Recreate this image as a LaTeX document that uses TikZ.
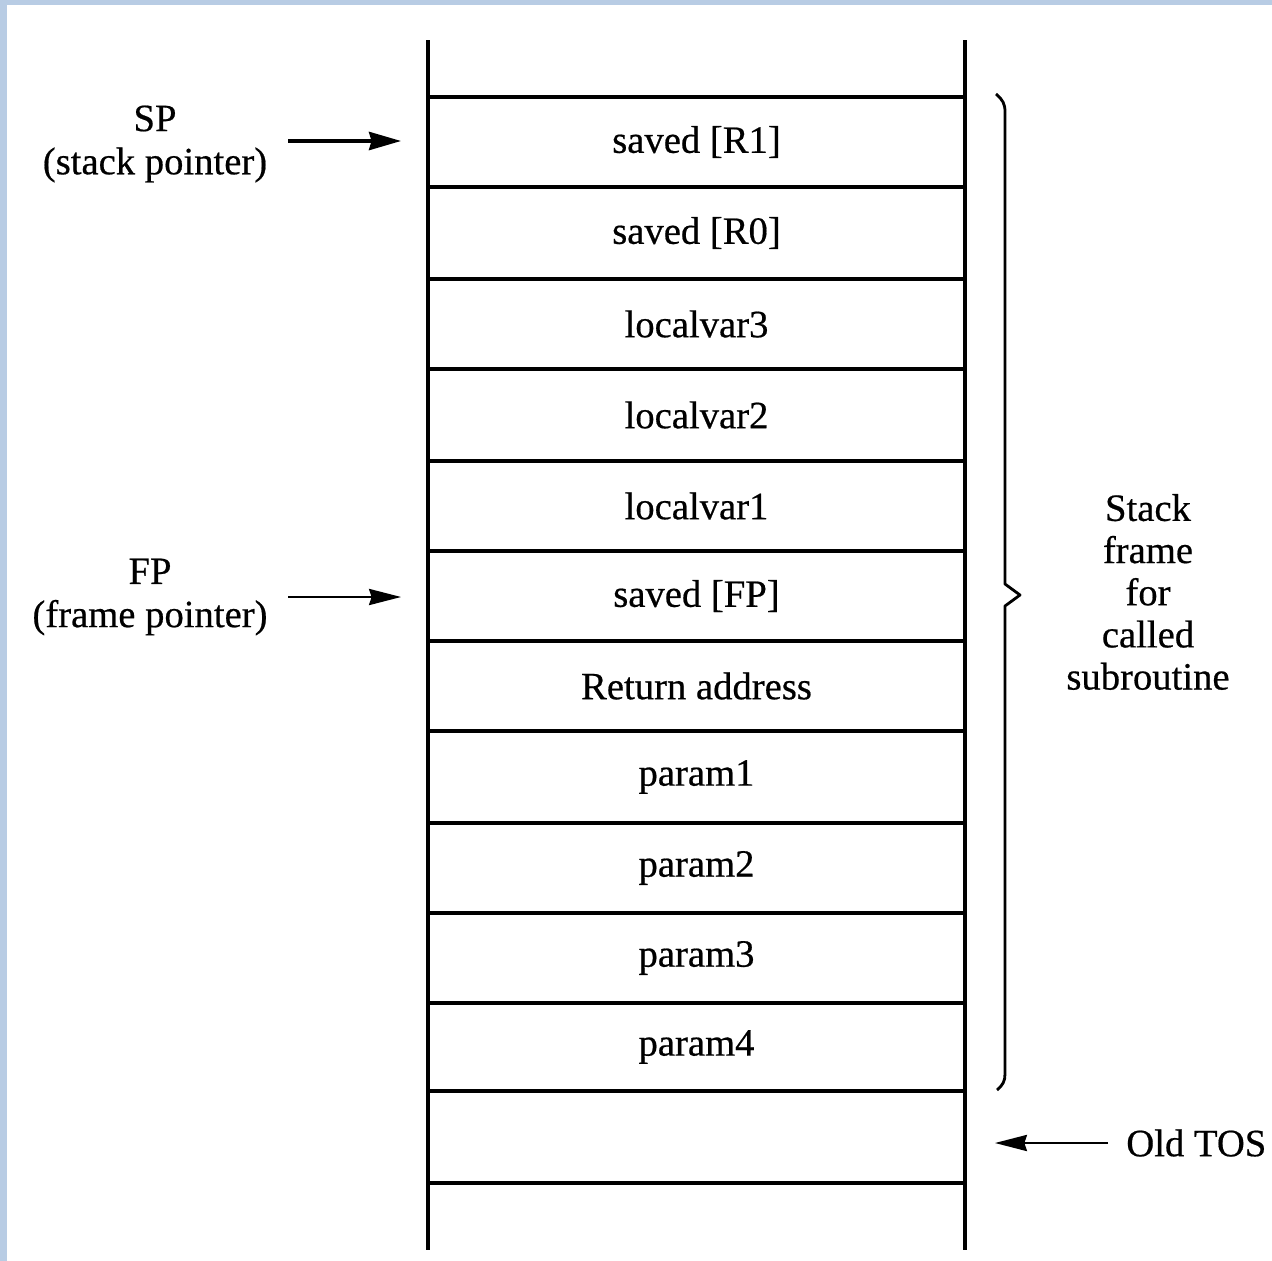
\documentclass[tikz,border=0pt]{standalone}
\usepackage{fontspec}
\setmainfont[FakeBold=0.5]{Liberation Serif}
\usetikzlibrary{arrows.meta}
\definecolor{bandblue}{RGB}{184,204,228}
\begin{document}
\begin{tikzpicture}[x=0.02cm,y=-0.02cm,
  cell/.style={draw,line width=2.2pt,minimum width=10.74cm,inner sep=0pt,
    font=\fontsize{22}{24}\selectfont},
  wall/.style={line width=2.6pt},
  lbl/.style={align=center,font=\fontsize{22}{24}\selectfont,inner sep=0pt},
  ptr/.style={line width=2.4pt,-{Stealth[length=0.64cm,width=0.36cm,inset=0.05cm]}},
  thinptr/.style={line width=1.6pt,-{Stealth[length=0.64cm,width=0.32cm,inset=0.05cm]}}]
\useasboundingbox (0,0) rectangle (1272,1261);
\fill[white] (0,0) rectangle (1272,1261);
\fill[bandblue] (0,0) rectangle (1272,5);
\fill[bandblue] (0,0) rectangle (7,1261);

% stack cells
\node[cell,minimum height=1.80cm] (r1) at (696.5,142) {saved [R1]};
\node[cell,minimum height=1.84cm] (r0) at (696.5,233) {saved [R0]};
\node[cell,minimum height=1.80cm] (l3) at (696.5,324) {localvar3};
\node[cell,minimum height=1.84cm] (l2) at (696.5,415) {localvar2};
\node[cell,minimum height=1.80cm] (l1) at (696.5,506) {localvar1};
\node[cell,minimum height=1.80cm] (fp) at (696.5,596) {saved [FP]};
\node[cell,minimum height=1.80cm] (ra) at (696.5,686) {Return address};
\node[cell,minimum height=1.84cm] (p1) at (696.5,777) {param1};
\node[cell,minimum height=1.80cm] (p2) at (696.5,868) {param2};
\node[cell,minimum height=1.80cm] (p3) at (696.5,958) {param3};
\node[cell,minimum height=1.76cm] (p4) at (696.5,1047) {param4};
\node[cell,minimum height=1.84cm] (e) at (696.5,1137) {};

% stack walls
\draw[wall] (428,40) -- (428,1250);
\draw[wall] (965,40) -- (965,1250);

% pointers
\node[lbl] (sp) at (155,144) {SP\\[0.02cm](stack pointer)};
\coordinate (spt) at (288,141);
\draw[ptr,shorten >=0.5cm] (spt) -- (spt -| r1.west);

\node[lbl] (fpl) at (150,597) {FP\\[0.02cm](frame pointer)};
\coordinate (fpt) at (288,597);
\draw[thinptr,shorten >=0.5cm] (fpt) -- (fpt -| fp.west);

% brace
\draw[line width=1.6pt,line join=round]
  (996,94) .. controls (1003,100) and (1005,104) .. (1005,112)
  -- (1005,584) -- (1020,595) -- (1005,606)
  -- (1005,1074) .. controls (1005,1081) and (1003,1085) .. (997,1090);
\node[lbl,align=center] (sf) at (1148,592)
  {Stack\\[0cm]frame\\[0cm]for\\[0cm]called\\[0cm]subroutine};

% old TOS
\node[lbl,anchor=west] (tos) at (1126,1143) {Old TOS};
\coordinate (tosa) at (1108,1143);
\draw[thinptr,shorten >=0.56cm] (tosa) -- (tosa -| e.east);
\end{tikzpicture}
\end{document}
